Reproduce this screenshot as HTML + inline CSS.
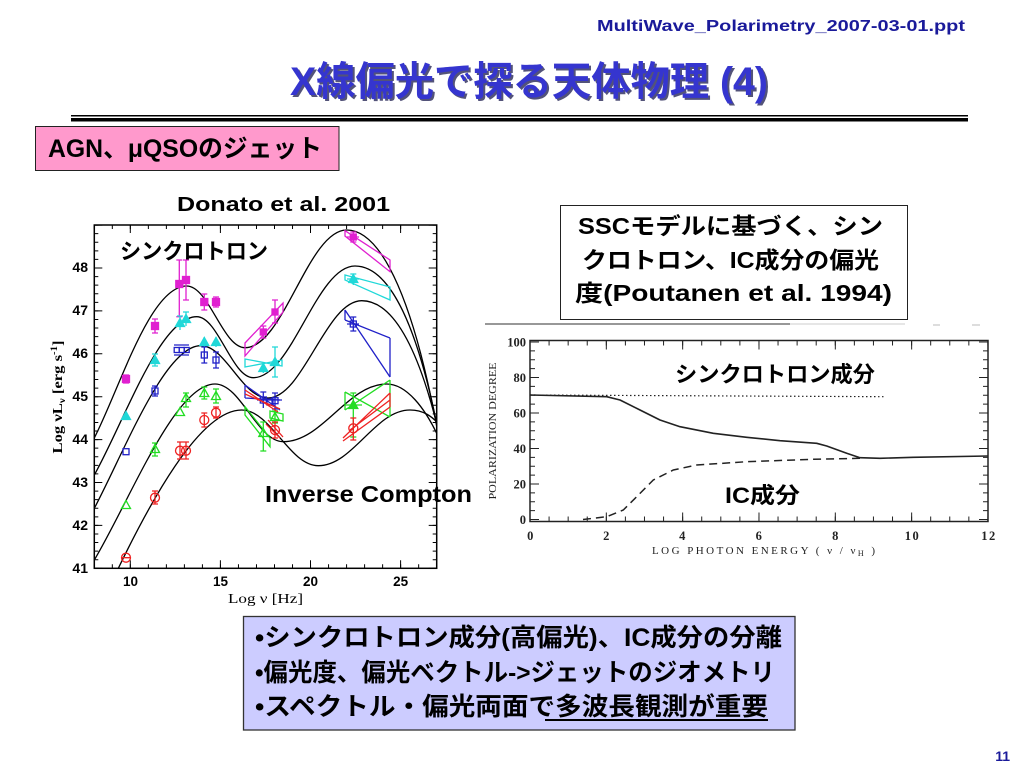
<!DOCTYPE html>
<html><head><meta charset="utf-8"><style>
html,body{margin:0;padding:0;background:#fff;}
svg{display:block;}
.s{font-family:"Liberation Sans","Noto Sans CJK JP",sans-serif;font-weight:bold;}
.r{font-family:"Liberation Serif","Noto Serif CJK SC",serif;}
</style></head><body>
<svg width="1024" height="768" viewBox="0 0 1024 768" xmlns="http://www.w3.org/2000/svg">
<rect width="1024" height="768" fill="#fff"/>
<!-- header -->
<text class="s" x="597" y="31" font-size="16" fill="#1a1a9a" textLength="368" lengthAdjust="spacingAndGlyphs">MultiWave_Polarimetry_2007-03-01.ppt</text>
<text class="s" x="292" y="97" font-size="40" fill="#1a1a4d" opacity="0.75" textLength="478" lengthAdjust="spacingAndGlyphs">X線偏光で探る天体物理 (4)</text>
<text class="s" x="290" y="95" font-size="40" fill="#3535cf" textLength="478" lengthAdjust="spacingAndGlyphs">X線偏光で探る天体物理 (4)</text>
<rect x="71" y="115" width="897" height="1.5" fill="#000"/>
<rect x="71" y="118" width="897" height="3.5" fill="#000"/>
<rect x="35.5" y="126.5" width="303.5" height="44" fill="#ff99cc" stroke="#222" stroke-width="1"/>
<text class="s" x="48" y="157" font-size="25" fill="#000" textLength="274" lengthAdjust="spacingAndGlyphs">AGN、μQSOのジェット</text>

<!-- left chart -->
<text class="s" x="177" y="211" font-size="20" textLength="213" lengthAdjust="spacingAndGlyphs">Donato et al. 2001</text>
<defs><clipPath id="cl"><rect x="94.3" y="225" width="342.4" height="343.3"/></clipPath></defs>
<g fill="none" stroke="#000">
<rect x="94.3" y="225" width="342.4" height="343.3" stroke-width="1.5"/>
<path d="M96.3,568.8 V225" stroke-width="4" stroke-dasharray="1 7.58"/>
<path d="M98.3,568.8 V225" stroke-width="8" stroke-dasharray="1 41.9"/>
<path d="M434.7,568.8 V225" stroke-width="4" stroke-dasharray="1 7.58"/>
<path d="M432.7,568.8 V225" stroke-width="8" stroke-dasharray="1 41.9"/>
<path d="M93.8,566.3 H437" stroke-width="4" stroke-dasharray="1 17.02"/>
<path d="M129.8,564.3 H437" stroke-width="8" stroke-dasharray="1 89.1"/>
<path d="M93.8,227 H437" stroke-width="4" stroke-dasharray="1 17.02"/>
<path d="M129.8,229 H437" stroke-width="8" stroke-dasharray="1 89.1"/>
</g>
<g class="s" font-size="14" text-anchor="end">
<text x="88" y="573">41</text><text x="88" y="530">42</text><text x="88" y="487">43</text><text x="88" y="444">44</text>
<text x="88" y="401">45</text><text x="88" y="358">46</text><text x="88" y="315">47</text><text x="88" y="272">48</text>
</g>
<g class="s" font-size="13.5" text-anchor="middle">
<text x="130.5" y="586">10</text><text x="220.5" y="586">15</text><text x="310.5" y="586">20</text><text x="400.6" y="586">25</text>
</g>
<text class="r" x="228" y="603" font-size="14" textLength="75" lengthAdjust="spacingAndGlyphs">Log ν [Hz]</text>
<text class="r" transform="translate(62,397) rotate(-90)" text-anchor="middle" font-size="14" font-weight="bold" textLength="113" lengthAdjust="spacingAndGlyphs">Log νL<tspan font-size="9" dy="3">ν</tspan><tspan dy="-3"> [erg s</tspan><tspan font-size="9" dy="-5">-1</tspan><tspan dy="5">]</tspan></text>

<g clip-path="url(#cl)" fill="none" stroke="#000" stroke-width="1.3">
<path d="M94.3,438 C120,388 150,286 186.7,286 C208.9,286 222.8,347.7 245,347.7 C283.6,347.7 308.1,230 346.7,230 C380,230 417,295 445,475"/>
<path d="M94.3,475 C125,420 160,316.7 196.7,316.7 C218.2,316.7 231.8,377.7 253.3,377.7 C291.9,377.7 316.4,266 355,266 C388,266 420,320 445,468"/>
<path d="M94.3,508.3 C125,450 165,345.7 200.7,345.7 C226,345.7 242,398 268,398 C303,398 326,300.7 361.7,300.7 C394,300.7 422,350 445,460"/>
<path d="M94.3,560 C130,500 175,384 215,384 C241,384 257.3,441.7 283.3,441.7 C322.6,441.7 347.4,384 386.7,384 C405,384 425,405 442,445"/>
<path d="M108,590 C150,500 200,410 241.7,410 C270.8,410 289.2,465.7 318.3,465.7 C353,465.7 375,410 410,410 C422,410 432,415 442,428"/>
</g>

<!-- magenta -->
<g stroke="#e020d0" fill="#e020d0" stroke-width="1.3">
<rect x="122.5" y="375.5" width="7" height="7"/><rect x="151.5" y="322.5" width="7" height="7"/>
<rect x="175.8" y="280.5" width="7" height="7"/><rect x="182.5" y="276.5" width="7" height="7"/>
<rect x="200.8" y="298.5" width="7" height="7"/><rect x="212.5" y="298.5" width="7" height="7"/>
<rect x="260.3" y="329" width="6" height="6"/><rect x="272" y="309" width="6" height="6"/>
<rect x="350.3" y="234" width="6" height="6"/>
<path fill="none" d="M126,375 V383 M123,375h6 M123,383h6 M155,319 V333 M152,319h6 M152,333h6 M179.3,260 V316.7 M176.3,260h6 M176.3,316.7h6 M186,260 V300 M183,260h6 M183,300h6 M204.3,294 V310 M201.3,294h6 M201.3,310h6 M216,297 V307 M213,297h6 M213,307h6 M263.3,326 V338 M260.3,326h6 M260.3,338h6 M275,300 V323 M272,300h6 M272,323h6 M353.3,232 V242 M350.3,232h6 M350.3,242h6 M347,237h12"/>
<polygon fill="none" points="245,343 283,303 283,312 245,356"/>
<polygon fill="none" points="345,230.7 390,260 390,271.7 345,236"/>
</g>
<!-- cyan -->
<g stroke="#20d8d8" fill="#20d8d8" stroke-width="1.3">
<path d="M126,411.5 l-4.5,8 h9z M155,355.5 l-4.5,8 h9z M180,318.5 l-4.5,8 h9z M186,314.5 l-4.5,8 h9z M204.3,337.5 l-4.5,8 h9z M216,337.5 l-4.5,8 h9z M263.3,363.5 l-4.5,8 h9z M275,357.5 l-4.5,8 h9z M353.3,274.5 l-4.5,8 h9z"/>
<path fill="none" d="M155,354 V366 M152,354h6 M152,366h6 M180,316 V330 M177,316h6 M186,312 V326 M183,312h6 M204.3,337 V347 M216,337 V347 M263.3,363 V373 M275,347 V377 M272,347h6 M272,377h6 M353.3,274 V285 M350.3,274h6 M347,279h12"/>
<polygon fill="none" points="245,359 282,366 282,360 245,367"/>
<polygon fill="none" points="345,275 390,287 390,300 345,280"/>
</g>
<!-- blue -->
<g stroke="#2020c8" fill="none" stroke-width="1.3">
<rect x="123" y="448.7" width="6" height="6"/><rect x="152" y="388" width="6" height="6"/>
<rect x="174.2" y="347.5" width="5" height="5"/><rect x="179.2" y="347.5" width="5" height="5"/><rect x="184.2" y="347.5" width="5" height="5"/>
<rect x="201.3" y="352" width="6" height="6"/><rect x="213" y="357" width="6" height="6"/>
<rect x="260.3" y="397" width="6" height="6"/><rect x="267" y="399" width="6" height="6"/><rect x="272" y="397.7" width="6" height="6"/>
<rect x="350.3" y="321" width="6" height="6"/>
<path d="M155,386 V396 M152,386h6 M152,396h6 M174,345h15 M174,355h15 M204.3,347 V363 M201.3,347h6 M201.3,363h6 M216,352 V368 M213,352h6 M213,368h6 M263.3,392 V408 M260.3,392h6 M275,393 V409 M272,393h6 M272,409h6 M257,400h25 M353.3,317 V331 M350.3,317h6 M350.3,331h6 M347,324h12"/>
<path d="M245,385 L280,410 M245,398 L280,400 M245,385 V398"/>
<path d="M345,310 L390,377 M345,320 L390,338 M345,310 V320 M390,338 V377"/>
</g>
<!-- green -->
<g stroke="#22dd22" fill="none" stroke-width="1.3">
<path d="M126,500.5 l-4.5,8 h9z M155,444.5 l-4.5,8 h9z M180,407.5 l-4.5,8 h9z M186,393.5 l-4.5,8 h9z M204.3,388.5 l-4.5,8 h9z M216,391.5 l-4.5,8 h9z M263.3,428.5 l-4.5,8 h9z M275,412.5 l-4.5,8 h9z"/>
<path fill="#22dd22" d="M353.3,400.5 l-4.5,8 h9z"/>
<path d="M155,443 V456 M152,443h6 M152,456h6 M186,393 V407 M183,393h6 M183,407h6 M204.3,387 V399 M201.3,387h6 M201.3,399h6 M216,389 V403 M213,389h6 M213,403h6 M263.3,422 V451 M260.3,422h6 M260.3,451h6 M275,411 V423 M272,411h6 M272,423h6 M353.3,393 V437 M350.3,393h6 M350.3,437h6 M345,405h17"/>
<polygon points="245,406.7 270,438 270,446.7 245,415"/>
<polygon points="270,411 283,414 283,421 270,418"/>
<path d="M345,392 L390,417 M345,410 L390,380 M345,392 V410 M390,380 V417"/>
</g>
<!-- red -->
<g stroke="#ee2222" fill="none" stroke-width="1.3">
<circle cx="126" cy="557.7" r="4.5"/><circle cx="155" cy="497.7" r="4.5"/>
<circle cx="180" cy="450.7" r="4.5"/><circle cx="186" cy="450.7" r="4.5"/>
<circle cx="204.3" cy="420" r="4.5"/><circle cx="216" cy="412.7" r="4.5"/>
<circle cx="275" cy="430" r="4.5"/><circle cx="353.3" cy="428.3" r="4.5"/>
<path d="M121,557.7h10 M155,491 V504 M152,491h6 M152,504h6 M180,442 V459 M177,442h6 M177,459h6 M186,442 V459 M183,442h6 M183,459h6 M204.3,413 V427 M201.3,413h6 M201.3,427h6 M216,407 V418 M213,407h6 M213,418h6 M275,422 V438 M272,422h6 M272,438h6 M353.3,418 V440 M350.3,418h6 M350.3,440h6"/>
<path d="M245,390 L278,412 M245,394 L280,409 M268,420 L283,437 M266,424 L280,438"/>
<path d="M343,438 L390,393 M343,441 L390,407 M390,393 V407 M350,430 L390,400"/>
</g>
<text class="s" x="120" y="259" font-size="22" textLength="148" lengthAdjust="spacingAndGlyphs">シンクロトロン</text>
<text class="s" x="265" y="502" font-size="23" textLength="207" lengthAdjust="spacingAndGlyphs">Inverse Compton</text>

<!-- right text box -->
<rect x="560.5" y="205.5" width="347" height="114" fill="#fff" stroke="#222" stroke-width="1"/>
<text class="s" x="578" y="234" font-size="23" textLength="305" lengthAdjust="spacingAndGlyphs">SSCモデルに基づく、シン</text>
<text class="s" x="582" y="268" font-size="23" textLength="297" lengthAdjust="spacingAndGlyphs">クロトロン、IC成分の偏光</text>
<text class="s" x="575" y="301" font-size="23" textLength="317" lengthAdjust="spacingAndGlyphs">度(Poutanen et al. 1994)</text>

<!-- scan artifact line -->
<line x1="485" y1="324" x2="790" y2="324" stroke="#777" stroke-width="1.5"/>
<line x1="790" y1="324" x2="905" y2="324" stroke="#ccc" stroke-width="1"/>
<line x1="933" y1="325" x2="940" y2="325" stroke="#bbb" stroke-width="1"/>
<line x1="972" y1="325" x2="980" y2="325" stroke="#bbb" stroke-width="1"/>

<!-- right chart -->
<g fill="none" stroke="#222">
<rect x="530" y="340.5" width="458" height="181" stroke-width="1.5"/>
<path d="M532.5,520 V341" stroke-width="5" stroke-dasharray="1 7.875"/>
<path d="M534.5,520 V341" stroke-width="9" stroke-dasharray="1 34.5"/>
<path d="M985.5,520 V341" stroke-width="5" stroke-dasharray="1 7.875"/>
<path d="M983.5,520 V341" stroke-width="9" stroke-dasharray="1 34.5"/>
<path d="M529.5,519 H989" stroke-width="5" stroke-dasharray="1 18.08"/>
<path d="M529.5,517 H989" stroke-width="9" stroke-dasharray="1 75.33"/>
<path d="M529.5,343 H989" stroke-width="5" stroke-dasharray="1 18.08"/>
<path d="M529.5,345 H989" stroke-width="9" stroke-dasharray="1 75.33"/>
<polyline stroke-width="1.6" stroke-linejoin="round" points="530,395 606.7,396.7 620,400 640,410 660,420 680,426.7 713.3,433.3 746.7,437.3 780,440.7 816.7,443.3 826.7,446 846.7,453.3 860,457.7 880,458.3 913.3,457.3 988,456"/>
<line x1="530" y1="395" x2="885" y2="396.7" stroke-width="1.2" stroke-dasharray="1.5 2.5"/>
<polyline stroke-width="1.5" stroke-dasharray="8 5" points="583,519.5 606.7,516.7 623.3,510 636.7,496.7 653.3,480 673.3,470 696.7,465 746.7,461.7 813.3,459.3 860,458.3"/>
</g>
<g class="r" font-size="12.5" font-weight="bold" text-anchor="end" fill="#222">
<text x="526" y="524">0</text><text x="526" y="488.5">20</text><text x="526" y="453">40</text>
<text x="526" y="417.5">60</text><text x="526" y="382">80</text><text x="526" y="346.5">100</text>
</g>
<g class="r" font-size="12.5" font-weight="bold" text-anchor="middle" fill="#222" letter-spacing="1.5">
<text x="531" y="540">0</text><text x="607" y="540">2</text><text x="683" y="540">4</text><text x="759.5" y="540">6</text>
<text x="836" y="540">8</text><text x="912.5" y="540">10</text><text x="989" y="540">12</text>
</g>
<text class="r" x="652" y="554" font-size="11" fill="#222" textLength="223" lengthAdjust="spacing">LOG PHOTON ENERGY ( ν / ν<tspan font-size="8" dy="2">H</tspan><tspan dy="-2"> )</tspan></text>
<text class="r" transform="translate(496,431) rotate(-90)" text-anchor="middle" font-size="10.5" fill="#222" textLength="137" lengthAdjust="spacingAndGlyphs">POLARIZATION DEGREE</text>
<text class="s" x="675" y="382" font-size="22" textLength="200" lengthAdjust="spacingAndGlyphs">シンクロトロン成分</text>
<text class="s" x="725" y="503" font-size="22" textLength="75" lengthAdjust="spacingAndGlyphs">IC成分</text>

<!-- bottom box -->
<rect x="243.5" y="616.5" width="551.5" height="113.5" fill="#ccccff" stroke="#333" stroke-width="1.3"/>
<text class="s" x="255" y="646" font-size="25" textLength="527" lengthAdjust="spacingAndGlyphs">•シンクロトロン成分(高偏光)、IC成分の分離</text>
<text class="s" x="255" y="681" font-size="25" textLength="520" lengthAdjust="spacingAndGlyphs">•偏光度、偏光ベクトル-&gt;ジェットのジオメトリ</text>
<text class="s" x="255" y="715" font-size="25" textLength="513" lengthAdjust="spacingAndGlyphs">•スペクトル・偏光両面で多波長観測が重要</text>
<line x1="545" y1="720" x2="768" y2="720" stroke="#000" stroke-width="2"/>

<text class="s" x="1010" y="761" font-size="14" fill="#1a1a9a" text-anchor="end">11</text>
</svg>
</body></html>
